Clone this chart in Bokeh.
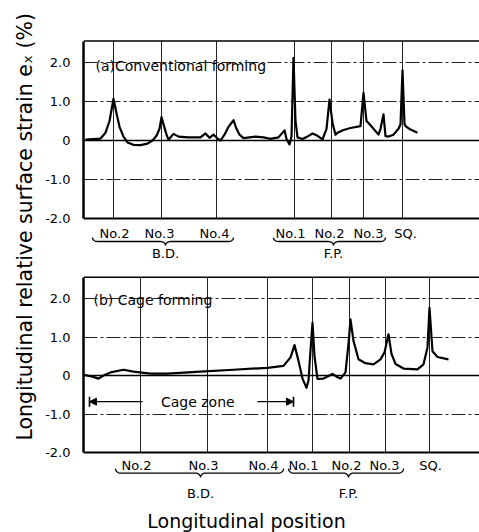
import numpy as np
from bokeh.plotting import figure
from bokeh.layouts import row, column
from bokeh.models import Range1d, FixedTicker, Arrow, NormalHead
from bokeh.core.properties import value
from bokeh.embed import file_html
from bokeh.resources import INLINE

FONT = "DejaVu Sans"

# ---------------- data (x: longitudinal position, arbitrary units) ----------------
top_x = [2, 17, 22, 26, 30, 33, 36, 40, 44, 50, 57, 64, 69, 73, 76, 78, 80, 83, 85, 90, 95,
         105, 117, 122, 126, 130, 134, 137, 141, 145, 150, 153, 156, 160, 166, 172, 180, 187,
         195, 201, 203, 206, 208, 210, 212, 214, 219, 224, 229, 234, 239, 243, 246, 249, 252,
         254, 260, 267, 277, 280, 283, 285, 290, 295, 297, 300, 302, 305, 310, 315, 317, 319,
         321, 322, 327, 334]
top_y = [0.02, 0.05, 0.2, 0.5, 1.07, 0.7, 0.35, 0.1, -0.05, -0.11, -0.12, -0.08, 0.0, 0.12,
         0.3, 0.6, 0.42, 0.15, 0.02, 0.17, 0.1, 0.08, 0.08, 0.18, 0.07, 0.15, 0.05, 0.0, 0.15,
         0.35, 0.52, 0.3, 0.15, 0.06, 0.08, 0.1, 0.08, 0.04, 0.08, 0.26, 0.04, -0.1, 0.1, 2.12,
         0.5, 0.08, 0.04, 0.1, 0.18, 0.12, 0.03, 0.3, 1.05, 0.45, 0.15, 0.2, 0.27, 0.32, 0.37,
         1.22, 0.5, 0.45, 0.3, 0.15, 0.3, 0.67, 0.11, 0.1, 0.15, 0.3, 0.41, 1.8, 0.43, 0.37,
         0.28, 0.2]

bot_x = [0, 9, 15, 20, 27, 40, 50, 67, 84, 117, 150, 184, 200, 207, 211, 215, 219, 223, 225,
         227, 229, 231, 234, 240, 249, 253, 257, 262, 265, 267, 270, 275, 282, 290, 297, 301,
         305, 308, 312, 320, 334, 340, 344, 346, 349, 354, 365]
bot_y = [0.02, -0.03, -0.08, 0.0, 0.08, 0.15, 0.1, 0.05, 0.05, 0.1, 0.15, 0.2, 0.25, 0.47,
         0.79, 0.38, -0.08, -0.32, -0.13, 0.65, 1.37, 0.5, -0.09, -0.08, 0.04, -0.03, -0.08,
         0.08, 0.83, 1.46, 0.9, 0.42, 0.32, 0.29, 0.42, 0.6, 1.07, 0.56, 0.3, 0.18, 0.16, 0.29,
         0.73, 1.76, 0.63, 0.48, 0.42]

station_labels = ["No.2", "No.3", "No.4", "No.1", "No.2", "No.3", "SQ."]
top_grid_x = [30, 78, 133, 211, 248, 280, 319]
top_label_x = [31, 76, 131, 207, 246, 285, 322]
bot_grid_x = [57, 124, 184, 229, 266, 302, 346]
bot_label_x = [53, 120, 180, 220, 263, 301, 347]

group_names = ["B.D.", "F.P."]
top_group_start = [9, 190]
top_group_end = [150, 302]
top_group_mid = [82, 250]
bot_group_start = [32, 205]
bot_group_end = [200, 320]
bot_group_mid = [117, 265]

y_ticks = [-2, -1, 0, 1, 2]
y_tick_labels = ["-2.0", "-1.0", "0", "1.0", "2.0"]
y_grid_ticks = [-1, 1, 2]
Y_MIN, Y_MAX = -2.0, 2.55
X_MAX = 396

cage_start, cage_end = 6, 210
cage_gap = (59, 174)
cage_y = -0.68


def brace(x0, x1, xm, ytop, ybot, r=5.0, n=10):
    ymid = (ytop + ybot) / 2
    xs, ys = [], []
    t = np.linspace(np.pi, 1.5 * np.pi, n)
    xs += list(x0 + r + r * np.cos(t)); ys += list(ytop + (ytop - ymid) * np.sin(t))
    t = np.linspace(0.5 * np.pi, 0, n)
    xs += list(xm - r + r * np.cos(t)); ys += list(ybot + (ymid - ybot) * np.sin(t))
    t = np.linspace(np.pi, 0.5 * np.pi, n)
    xs += list(xm + r + r * np.cos(t)); ys += list(ybot + (ymid - ybot) * np.sin(t))
    t = np.linspace(1.5 * np.pi, 2 * np.pi, n)
    xs += list(x1 - r + r * np.cos(t)); ys += list(ytop + (ytop - ymid) * np.sin(t))
    return xs, ys


def panel(height, y0, y1, xs, ys, grid_x, label_x, label_y,
          gstart, gend, gmid, brace_top, brace_bot, group_y, title, title_x, title_y):
    p = figure(width=45 + X_MAX, height=height, x_range=Range1d(0, X_MAX),
               y_range=Range1d(y0, y1), x_axis_type=None, output_backend="svg",
               toolbar_location=None, min_border_left=45, min_border_right=0,
               min_border_top=0, min_border_bottom=0)
    p.outline_line_color = None
    p.background_fill_color = "white"
    p.border_fill_color = "white"
    p.xgrid.visible = False
    p.ygrid.ticker = FixedTicker(ticks=y_grid_ticks)
    p.ygrid.grid_line_color = "#222222"
    p.ygrid.grid_line_width = 1
    p.ygrid.grid_line_dash = "14 3 3 3"

    ax = p.yaxis[0]
    ax.ticker = FixedTicker(ticks=y_ticks)
    ax.major_label_overrides = {t: s for t, s in zip(y_ticks, y_tick_labels)}
    ax.bounds = (Y_MIN, Y_MAX)
    ax.axis_line_width = 2.5
    ax.axis_line_color = "black"
    ax.major_tick_line_color = None
    ax.minor_tick_line_color = None
    ax.major_label_standoff = 7
    ax.major_label_text_font = FONT
    ax.major_label_text_font_size = "13px"
    ax.major_label_text_color = "black"

    # vertical grid lines at stations
    p.segment(x0=grid_x, y0=[Y_MIN] * len(grid_x), x1=grid_x, y1=[Y_MAX] * len(grid_x),
              line_color="#222222", line_width=1)
    # frame: bottom and top borders, zero line
    p.segment(x0=[0], y0=[Y_MIN], x1=[X_MAX], y1=[Y_MIN], line_color="black", line_width=2.2)
    p.segment(x0=[0], y0=[Y_MAX], x1=[X_MAX], y1=[Y_MAX], line_color="black", line_width=1.5)
    p.segment(x0=[0], y0=[0], x1=[X_MAX], y1=[0], line_color="black", line_width=1.5)

    # strain curve
    p.line(xs, ys, line_color="black", line_width=2.2, line_join="round")

    # station labels
    p.text(x=label_x, y=[label_y] * len(label_x), text=station_labels,
           text_align="center", text_baseline="middle", text_font=value(FONT),
           text_font_size="13px", text_color="black")
    # braces + group names
    bxs, bys = [], []
    for a, b, m in zip(gstart, gend, gmid):
        bx, by = brace(a, b, m, brace_top, brace_bot)
        bxs.append(bx); bys.append(by)
    p.multi_line(bxs, bys, line_color="black", line_width=1.3)
    p.text(x=gmid, y=[group_y] * len(gmid), text=group_names, text_align="center",
           text_baseline="middle", text_font=value(FONT), text_font_size="13px",
           text_color="black")
    # panel title
    p.text(x=[title_x], y=[title_y], text=[title], text_align="left", text_baseline="middle",
           text_font=value(FONT), text_font_size="14px", text_color="black")
    return p


top = panel(262, (140 - 262) / 39, (140 - 0) / 39, top_x, top_y, top_grid_x, top_label_x,
            -2.38, top_group_start, top_group_end, top_group_mid, -2.49, -2.69, -2.9,
            "(a)Conventional  forming", 12, 1.92)

bot = panel(270, (375 - 532) / 38.5, (375 - 262) / 38.5, bot_x, bot_y, bot_grid_x,
            bot_label_x, -2.34, bot_group_start, bot_group_end, bot_group_mid, -2.42, -2.65,
            -3.06, "(b) Cage  forming", 10, 1.97)

# cage zone arrow
bot.text(x=[(cage_gap[0] + cage_gap[1]) / 2], y=[cage_y], text=["Cage  zone"],
         text_align="center", text_baseline="middle", text_font=value(FONT),
         text_font_size="14px", text_color="black")
bot.add_layout(Arrow(x_start=cage_gap[0], y_start=cage_y, x_end=cage_start, y_end=cage_y,
                     line_width=1.2, end=NormalHead(size=7, fill_color="black",
                                                    line_color="black")))
bot.add_layout(Arrow(x_start=cage_gap[1], y_start=cage_y, x_end=cage_end, y_end=cage_y,
                     line_width=1.2, end=NormalHead(size=7, fill_color="black",
                                                    line_color="black")))
bot.segment(x0=[cage_start, cage_end], y0=[cage_y - 0.13] * 2, x1=[cage_start, cage_end],
            y1=[cage_y + 0.13] * 2, line_color="black", line_width=1.6)
bot.text(x=[163], y=[-3.79], text=["Longitudinal position"], text_align="center",
         text_baseline="middle", text_font=value(FONT), text_font_size="19px",
         text_color="black")

# shared y-axis label
lab = figure(width=38, height=532, x_range=Range1d(0, 38), y_range=Range1d(0, 532),
             x_axis_type=None, y_axis_type=None, output_backend="svg",
             toolbar_location=None, min_border=0)
lab.outline_line_color = None
lab.grid.visible = False
lab.text(x=[24], y=[532 - 223], text=["Longitudinal relative surface strain  e\u2093 (%)"],
         angle=np.pi / 2, text_align="center", text_baseline="middle",
         text_font=value(FONT), text_font_size="20.5px", text_color="black")

layout = row(lab, column(top, bot))
open("out.html", "w").write(file_html(layout, INLINE))
